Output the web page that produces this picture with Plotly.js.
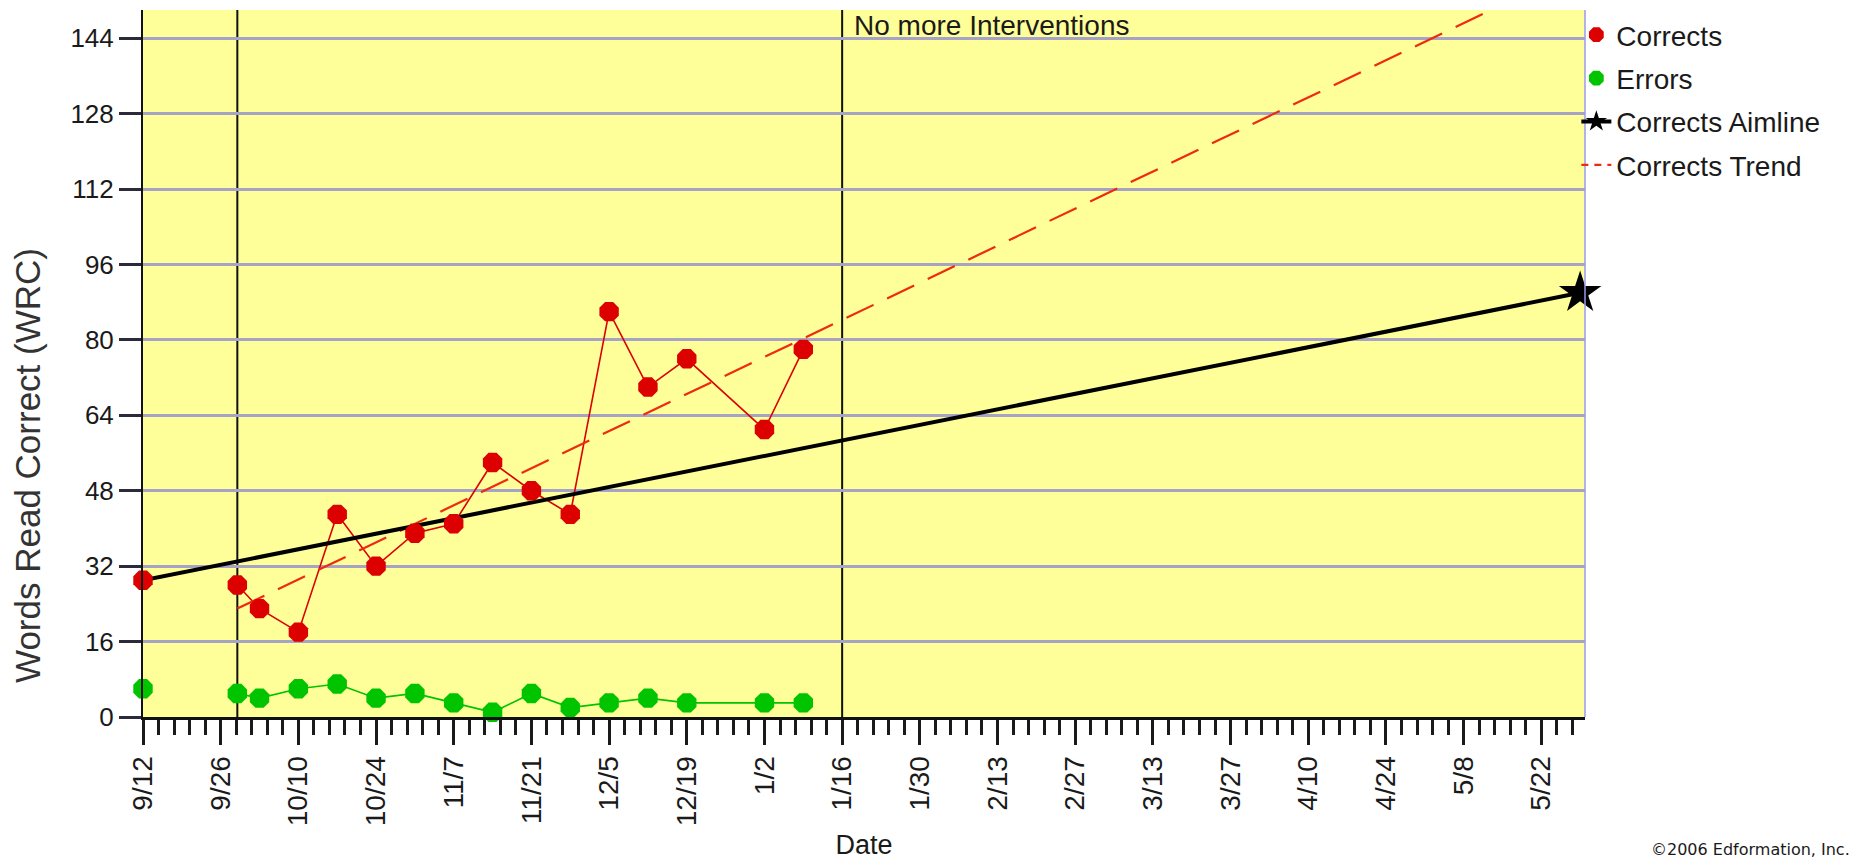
<!DOCTYPE html>
<html>
<head>
<meta charset="utf-8">
<script src="https://cdn.plot.ly/plotly-3.0.1.min.js"></script>
<style>
  html, body { margin: 0; padding: 0; background: #ffffff; }
  #chart { width: 1856px; height: 866px; }
</style>
</head>
<body>
<div id="chart"></div>
<script>
// ---- data ----
const sessionDates = ['2005-09-12','2005-09-29','2005-10-03','2005-10-10','2005-10-17','2005-10-24','2005-10-31','2005-11-07','2005-11-14','2005-11-21','2005-11-28','2005-12-05','2005-12-12','2005-12-19','2006-01-02','2006-01-09'];
const correctsValues = [29, 28, 23, 18, 43, 32, 39, 41, 54, 48, 43, 86, 70, 76, 61, 78];
const errorsValues   = [6, 5, 4, 6, 7, 4, 5, 3, 1, 5, 2, 3, 4, 3, 3, 3];

const aimlineDates  = ['2005-09-12', '2006-05-29'];
const aimlineValues = [29, 90];

const trendDates  = ['2005-09-29', '2006-05-29'];
const trendValues = [23, 159];

const phaseLineDates = ['2005-09-29', '2006-01-16'];
const phaseLineLabels = ['', 'No more Interventions'];

const tickDates  = ['2005-09-12','2005-09-26','2005-10-10','2005-10-24','2005-11-07','2005-11-21','2005-12-05','2005-12-19','2006-01-02','2006-01-16','2006-01-30','2006-02-13','2006-02-27','2006-03-13','2006-03-27','2006-04-10','2006-04-24','2006-05-08','2006-05-22'];
const tickLabels = ['9/12','9/26','10/10','10/24','11/7','11/21','12/5','12/19','1/2','1/16','1/30','2/13','2/27','3/13','3/27','4/10','4/24','5/8','5/22'];
const yTickValues = [0, 16, 32, 48, 64, 80, 96, 112, 128, 144];

// ---- styling ----
const FONT = 'Liberation Sans, Arial, sans-serif';
const RED = '#dc0000';
const GREEN = '#00c400';
const TREND = '#ee2a10';
const DAY = 86400000;

// split a series into phase segments so lines break at phase changes
function segments(dates, values) {
  const bounds = phaseLineDates.map(d => new Date(d).getTime());
  const segs = [];
  dates.forEach((d, i) => {
    const t = new Date(d).getTime();
    let k = 0;
    bounds.forEach(b => { if (t >= b) k++; });
    if (!segs[k]) segs[k] = {x: [], y: []};
    segs[k].x.push(d); segs[k].y.push(values[i]);
  });
  return segs.filter(Boolean);
}

const traces = [];
segments(sessionDates, correctsValues).forEach(s => traces.push({
  x: s.x, y: s.y, type: 'scatter', mode: 'lines', showlegend: false, legendgroup: 'z', legendrank: 9,
  line: {color: RED, width: 1.6}, hoverinfo: 'skip'
}));
segments(sessionDates, errorsValues).forEach(s => traces.push({
  x: s.x, y: s.y, type: 'scatter', mode: 'lines', showlegend: false, legendgroup: 'z', legendrank: 9,
  line: {color: GREEN, width: 1.6}, hoverinfo: 'skip'
}));
traces.push({
  x: trendDates, y: trendValues, type: 'scatter', mode: 'lines',
  name: 'Corrects Trend', legendgroup: 'z', legendrank: 9, showlegend: false,
  line: {color: TREND, width: 2.2, dash: '30px,15px'}
});
// legend entry for the trend (short dashes like the original key)
traces.push({
  x: [null], y: [null], type: 'scatter', mode: 'lines',
  name: 'Corrects Trend', legendgroup: 'd', legendrank: 4,
  line: {color: TREND, width: 2.2, dash: '7px,6px'}
});
traces.push({
  x: aimlineDates, y: aimlineValues, type: 'scatter', mode: 'lines+markers',
  name: 'Corrects Aimline', legendgroup: 'c', legendrank: 3, cliponaxis: false,
  line: {color: '#000000', width: 4},
  marker: {symbol: 'star', color: '#000000', opacity: 1, size: [0, 32], line: {width: 0}}
});
traces.push({
  x: sessionDates, y: errorsValues, type: 'scatter', mode: 'markers',
  name: 'Errors', legendgroup: 'b', legendrank: 2, cliponaxis: false,
  marker: {symbol: 'octagon', color: GREEN, size: 21}
});
traces.push({
  x: sessionDates, y: correctsValues, type: 'scatter', mode: 'markers',
  name: 'Corrects', legendgroup: 'a', legendrank: 1, cliponaxis: false,
  marker: {symbol: 'octagon', color: RED, size: 21}
});

const shapes = phaseLineDates.map(d => ({
  type: 'line', xref: 'x', yref: 'paper', x0: d, x1: d, y0: 0, y1: 1,
  line: {color: '#111111', width: 2}, layer: 'below'
}));
shapes.push({
  type: 'line', xref: 'paper', yref: 'paper', x0: 1, x1: 1, y0: 0, y1: 1,
  line: {color: '#9a9af0', width: 1.5}, layer: 'above'
});

const annotations = [];
phaseLineDates.forEach((d, i) => {
  if (phaseLineLabels[i]) annotations.push({
    x: d, xref: 'x', y: 1, yref: 'paper', xanchor: 'left', yanchor: 'top',
    xshift: 10, yshift: 2, showarrow: false, text: phaseLineLabels[i],
    font: {family: FONT, size: 28, color: '#1a1a1a'}
  });
});
annotations.push({
  x: 1.185, xref: 'paper', y: -0.188, yref: 'paper', xanchor: 'right', yanchor: 'middle',
  showarrow: false, text: '\u00A92006 Edformation, Inc.',
  font: {family: 'DejaVu Sans, sans-serif', size: 16, color: '#1a1a1a'}
});
annotations.push({
  x: 0, xref: 'paper', y: 0.355, yref: 'paper', xanchor: 'center', yanchor: 'middle',
  xshift: -116, textangle: -90, showarrow: false, text: 'Words Read Correct (WRC)',
  font: {family: FONT, size: 35, color: '#333333'}
});

const layout = {
  width: 1856, height: 866,
  margin: {l: 143, r: 271, t: 10, b: 149, pad: 0},
  paper_bgcolor: '#ffffff',
  plot_bgcolor: '#ffff99',
  showlegend: true,
  legend: {
    x: 0.994, xanchor: 'left', y: 1.0, yanchor: 'top',
    bgcolor: 'rgba(0,0,0,0)', borderwidth: 0,
    font: {family: FONT, size: 28, color: '#1a1a1a'},
    tracegroupgap: 4, itemwidth: 30, traceorder: 'grouped'
  },
  xaxis: {
    type: 'date',
    range: ['2005-09-12', '2006-05-29 21:00'],
    tickmode: 'array', tickvals: tickDates, ticktext: tickLabels,
    tickangle: -90,
    ticks: 'outside', ticklen: 25, tickwidth: 3, tickcolor: '#1a1a1a',
    tickfont: {family: FONT, size: 28, color: '#1a1a1a'},
    minor: {tick0: '2005-09-12', dtick: 2.8 * DAY, ticks: 'outside', ticklen: 15, tickwidth: 3, tickcolor: '#1a1a1a', showgrid: false},
    showgrid: false, zeroline: false,
    showline: true, linecolor: '#111111', linewidth: 3,
    title: {text: 'Date', font: {family: FONT, size: 27, color: '#1a1a1a'}, standoff: 10}
  },
  yaxis: {
    range: [0, 150],
    tickmode: 'array', tickvals: yTickValues,
    ticks: 'outside', ticklen: 22, tickwidth: 3, tickcolor: '#2a2a3a',
    tickfont: {family: FONT, size: 26, color: '#1a1a1a'},
    showgrid: true, gridcolor: '#a7a3c6', gridwidth: 3,
    zeroline: false,
    showline: true, linecolor: '#111111', linewidth: 2
  },
  shapes: shapes,
  annotations: annotations,
  hovermode: false
};

Plotly.newPlot('chart', traces, layout, {displayModeBar: false, staticPlot: true});
</script>
</body>
</html>
